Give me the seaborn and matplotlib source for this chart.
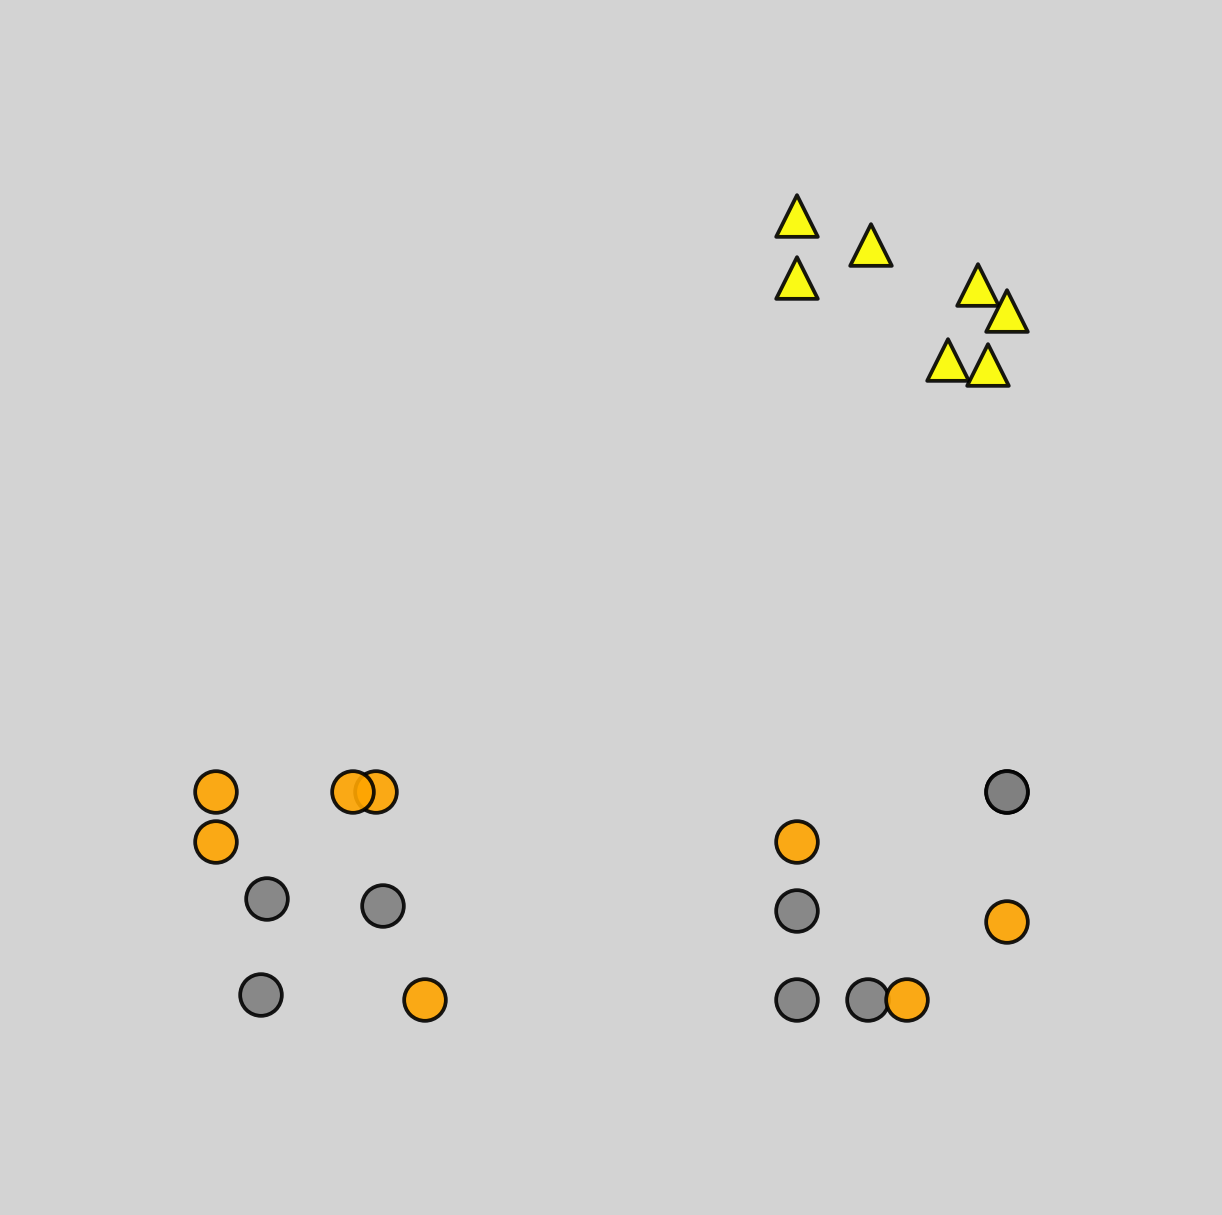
import numpy as np
import pandas as pd
import matplotlib
matplotlib.use("Agg")
import matplotlib.pyplot as plt
import seaborn as sns

# point positions (x right, y up, 0..12.22 x 0..12.15)
tri_x = [7.97, 8.71, 7.97, 9.78, 10.07, 9.48, 9.88]
tri_y = [9.99, 9.70, 9.37, 9.30, 9.04, 8.55, 8.50]

orange_x = [2.16, 2.16, 3.76, 3.53, 4.25, 7.97, 10.07, 9.07]
orange_y = [4.23, 3.73, 4.23, 4.23, 2.15, 3.73, 2.93, 2.15]

gray_x = [2.67, 3.83, 2.61, 10.07, 10.07, 7.97, 7.97, 8.68]
gray_y = [3.16, 3.09, 2.20, 4.23, 4.23, 3.04, 2.15, 2.15]

# drawing order matters where markers overlap
df = pd.concat([
    pd.DataFrame({"x": gray_x, "y": gray_y, "group": "gray", "shape": "circle"}),
    pd.DataFrame({"x": orange_x, "y": orange_y, "group": "orange", "shape": "circle"}),
    pd.DataFrame({"x": tri_x, "y": tri_y, "group": "yellow", "shape": "triangle"}),
], ignore_index=True)

palette = {"gray": "gray", "orange": "orange", "yellow": "yellow"}
markers = {"circle": "o", "triangle": "^"}

fig = plt.figure(figsize=(12.22, 12.15), dpi=100, facecolor="lightgray")
ax = fig.add_axes([0, 0, 1, 1])
ax.set_facecolor("lightgray")

sns.scatterplot(data=df, x="x", y="y", hue="group", style="shape",
                palette=palette, markers=markers, s=900, alpha=0.9,
                edgecolor="black", linewidth=2.7, legend=False, ax=ax)

ax.set_xlim(0, 12.22)
ax.set_ylim(0, 12.15)
ax.set_axis_off()

fig.savefig("out.png", dpi=100, facecolor="lightgray")
